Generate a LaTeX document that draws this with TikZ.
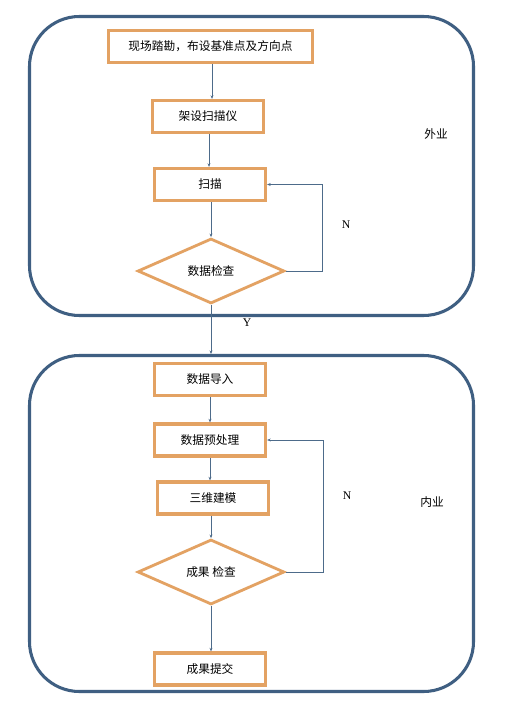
\documentclass[tikz,border=0pt]{standalone}
\usepackage{fontspec}
\setmainfont{Liberation Serif}
\newfontfamily\cjk{Noto Sans CJK SC}
\usetikzlibrary{shapes.geometric,arrows.meta}
\definecolor{frameblue}{HTML}{3F5F82}
\definecolor{boxorange}{HTML}{E3A263}
\definecolor{linkblue}{HTML}{4D6B8A}

\begin{document}
\begin{tikzpicture}[x=0.03cm,y=-0.03cm,
  zone/.style={draw=frameblue,line width=2.6pt,rounded corners=1.5cm,minimum width=13.32cm,inner sep=0pt},
  stepbox/.style={draw=boxorange,line width=2.8pt,minimum width=3.33cm,minimum height=0.96cm,inner sep=0pt,font=\cjk\fontsize{10}{12}\selectfont},
  checkbox/.style={draw=boxorange,line width=2.4pt,shape=diamond,aspect=2.25,minimum width=4.4cm,minimum height=1.95cm,inner sep=0pt,font=\cjk\fontsize{10}{12}\selectfont},
  link/.style={draw=linkblue,line width=0.6pt,-{Stealth[length=3pt,width=2.5pt]}},
  tag/.style={font=\fontsize{10}{12}\selectfont},
  zonetag/.style={font=\cjk\fontsize{10}{12}\selectfont}]
\useasboundingbox[fill=white] (0,0) rectangle (504,712);

% field work
\node[zone,minimum height=8.97cm] (outdoor) at (251.5,166) {};
\node[stepbox,minimum width=6.12cm] (survey) at (210.5,46.5) {现场踏勘，布设基准点及方向点};
\node[stepbox] (setup) at (208,116.5) {架设扫描仪};
\node[stepbox] (scan) at (210,184.5) {扫描};
\node[checkbox] (check1) at (211,271) {数据检查};
\node[zonetag] (outtag) at (436,134) {外业};
\node[tag] (no1) at (346,225) {N};
\node[tag] (yes) at (247,323) {Y};
\coordinate (loop1) at (322,184.5);

% office work
\node[zone,minimum height=10.08cm] (indoor) at (251.5,523.5) {};
\node[stepbox] (import) at (210,379.5) {数据导入};
\node[stepbox] (prep) at (210,440) {数据预处理};
\node[stepbox] (model) at (213,498) {三维建模};
\node[checkbox] (check2) at (211,572) {成果 检查};
\node[stepbox] (submit) at (210,669) {成果提交};
\node[zonetag] (intag) at (432,502) {内业};
\node[tag] (no2) at (347,496) {N};
\coordinate (loop2) at (323,440);

\draw[link] (setup.north -| survey.south) ++(1.5,0) coordinate (s1) (survey.south -| s1) -- (setup.north -| s1);
\draw[link] (setup.south) ++(1,0) coordinate (s2) (setup.south -| s2) -- (scan.north -| s2);
\draw[link] (scan.south -| check1.north) -- (check1);
\draw[link] (check1.east) -| (loop1) -- (scan.east);
\draw[link] (check1.south) -- (check1.south |- indoor.north);
\draw[link] (import) -- (prep);
\draw[link] (prep) -- (model.north -| prep.south);
\draw[link] (model.south -| check2.north) -- (check2);
\draw[link] (check2.east) -| (loop2) -- (prep.east);
\draw[link] (check2) -- (check2.south |- submit.north);
\end{tikzpicture}
\end{document}
